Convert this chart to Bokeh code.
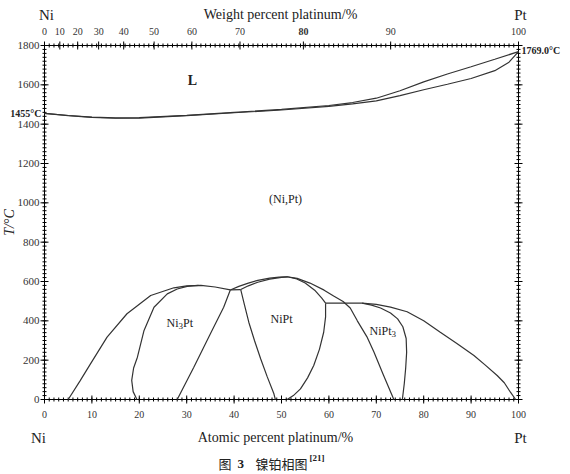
from bokeh.plotting import figure
from bokeh.models import Range1d
from bokeh.core.properties import value
from bokeh.embed import file_html
from bokeh.resources import INLINE
import numpy as np

# ---------------- data ----------------
liq_x = [0, 5, 10, 15, 20, 30, 40, 50, 60, 65, 70, 75, 80, 85, 90, 95, 100]
liq_T = [1455, 1444, 1436, 1432, 1433, 1445, 1460, 1475, 1495, 1510, 1532, 1570, 1615, 1655, 1692, 1730, 1769]
sol_x = [0, 5, 10, 15, 20, 30, 40, 50, 60, 65, 70, 75, 80, 85, 90, 95, 98, 100]
sol_T = [1455, 1443, 1435, 1430, 1431, 1443, 1458, 1472, 1490, 1503, 1518, 1545, 1575, 1603, 1632, 1672, 1715, 1769]

ni3pt_outer_x = [5, 7.5, 9.7, 13.2, 17.4, 22.4, 27.3, 30, 33, 36, 39.2]
ni3pt_outer_T = [0, 95, 181, 317, 436, 529, 568, 578, 580, 572, 557]
ni3pt_inner_x = [19.5, 18.7, 18.4, 18.8, 19.6, 21, 23.1, 25.9, 28, 30.1, 32.5]
ni3pt_inner_T = [0, 40, 97, 160, 215, 351, 469, 537, 562, 575, 580]
ni3pt_right_x = [28, 31.5, 35, 37.8, 39.2]
ni3pt_right_T = [0, 164, 334, 469, 557]
tie1_x = [39.2, 41.4]
tie1_T = [557, 559]

nipt_outer_x = [39.2, 41, 43, 45, 47.5, 49.5, 51.2, 53.3, 56, 59, 61, 63, 64.5, 66, 68, 69.5, 71.5, 73.7]
nipt_outer_T = [557, 575, 592, 606, 617, 622, 624, 616, 592, 556, 526, 498, 465, 400, 320, 241, 125, 0]
nipt_inner_x = [41.4, 43, 45, 47.5, 50, 51.2, 53, 55, 57, 58.5, 59.3]
nipt_inner_T = [559, 578, 596, 612, 621, 624, 615, 592, 556, 515, 490]
nipt_left_x = [41.4, 42.2, 43.1, 44.3, 45.6, 47, 48.4, 48.7]
nipt_left_T = [559, 480, 393, 300, 207, 115, 29, 0]
nipt_right_x = [59.3, 59.3, 58.9, 58, 56.8, 55.5, 54, 52.5, 51.2]
nipt_right_T = [490, 420, 342, 255, 173, 110, 54, 20, 0]
tie2_x = [59.3, 67]
tie2_T = [490, 490]

nipt3_outer_x = [67, 70, 73, 76.5, 80, 83.5, 87, 90.6, 93, 95.5, 97, 98.3, 99.4]
nipt3_outer_T = [490, 484, 470, 446, 400, 342, 285, 224, 175, 122, 85, 37, 0]
nipt3_inner_x = [67, 69, 70.9, 73, 74.5, 75.6, 76.3, 76.4, 76.2, 75.9, 75.5]
nipt3_inner_T = [490, 480, 465, 440, 410, 370, 310, 240, 160, 80, 0]

# axes
bottom_ticks = [0, 10, 20, 30, 40, 50, 60, 70, 80, 90, 100]
bottom_minor = list(range(0, 101))
left_ticks = [0, 200, 400, 600, 800, 1000, 1200, 1400, 1600, 1800]
left_minor = list(range(0, 1801, 20))
weight_ticks = [0, 10, 20, 30, 40, 50, 60, 70, 80, 90, 100]
weight_label_style = ["normal"] * 8 + ["bold"] + ["normal"] * 2

M_NI, M_PT = 58.69, 195.08


def wt_to_at(w):
    if w <= 0:
        return 0.0
    if w >= 100:
        return 100.0
    a = w / M_PT
    b = (100 - w) / M_NI
    return 100 * a / (a + b)


top_pos = [wt_to_at(w) for w in weight_ticks]

# ---------------- layout geometry (pixels) ----------------
W, H = 570, 474
FL, FR, FT, FB = 44, 518, 45, 399          # frame edges in canvas px
X0, X1 = bottom_ticks[0], bottom_ticks[-1]
Y0, Y1 = left_ticks[0], left_ticks[-1]
sx = (FR - FL) / (X1 - X0)
sy = (FB - FT) / (Y1 - Y0)


def px_x(px):
    return X0 + (px - FL) / sx


def px_y(py):
    return Y0 + (FB - py) / sy


SERIF = "Liberation Serif"
CJK = "Noto Sans CJK SC"
LC = "#333333"

p = figure(width=W, height=H,
           x_range=Range1d(px_x(0), px_x(W)), y_range=Range1d(px_y(H), px_y(0)),
           output_backend="svg", toolbar_location=None,
           x_axis_location=None, y_axis_location=None,
           min_border_left=0, min_border_right=0, min_border_top=0, min_border_bottom=0)
p.grid.visible = False
p.outline_line_color = None
p.background_fill_color = "white"
p.border_fill_color = "white"

# frame box
p.line([X0, X1, X1, X0, X0], [Y0, Y0, Y1, Y1, Y0], line_color="black", line_width=1)

# ticks (dash markers centred on the axis lines)
half = np.pi / 2
p.scatter(bottom_ticks, [Y0] * len(bottom_ticks), marker="dash", size=8, angle=half, line_color="black")
p.scatter(bottom_minor, [Y0] * len(bottom_minor), marker="dash", size=4, angle=half, line_color="black")
p.scatter(top_pos, [Y1] * len(top_pos), marker="dash", size=8, angle=half, line_color="black")
p.scatter(bottom_minor, [Y1] * len(bottom_minor), marker="dash", size=4, angle=half, line_color="black")
p.scatter([X0] * len(left_ticks), left_ticks, marker="dash", size=8, line_color="black")
p.scatter([X0] * len(left_minor), left_minor, marker="dash", size=4, line_color="black")
p.scatter([X1] * len(left_ticks), left_ticks, marker="dash", size=8, line_color="black")
p.scatter([X1] * len(left_minor), left_minor, marker="dash", size=4, line_color="black")

# tick labels
p.text(bottom_ticks, [px_y(FB + 15)] * len(bottom_ticks), text=[str(t) for t in bottom_ticks],
       text_font=value(SERIF), text_font_size="10px", text_align="center",
       text_baseline="middle", text_color="#333333")
p.text([px_x(FL - 5)] * len(left_ticks), left_ticks, text=[str(t) for t in left_ticks],
       text_font=value(SERIF), text_font_size="11px", text_align="right",
       text_baseline="middle", text_color="#333333")
p.text(top_pos, [px_y(FT - 14)] * len(top_pos), text=[str(w) for w in weight_ticks],
       text_font=value(SERIF), text_font_size="10px", text_align="center",
       text_baseline="middle", text_color="#333333", text_font_style=weight_label_style)

# phase boundaries
lines = [
    (liq_x, liq_T), (sol_x, sol_T),
    (ni3pt_outer_x, ni3pt_outer_T), (ni3pt_inner_x, ni3pt_inner_T),
    (ni3pt_right_x, ni3pt_right_T), (tie1_x, tie1_T),
    (nipt_outer_x, nipt_outer_T), (nipt_inner_x, nipt_inner_T),
    (nipt_left_x, nipt_left_T), (nipt_right_x, nipt_right_T), (tie2_x, tie2_T),
    (nipt3_outer_x, nipt3_outer_T), (nipt3_inner_x, nipt3_inner_T),
]
for xs, ts in lines:
    p.line(xs, ts, line_color=LC, line_width=1.2)


def txt(x, y, s, size="11px", align="center", base="middle", style="normal",
        font=SERIF, angle=0.0, color="#222222"):
    p.text([x], [y], text=[s], text_font=value(font), text_font_size=size,
           text_align=align, text_baseline=base, text_font_style=style,
           text_color=color, angle=angle)


# region labels
txt(px_x(192), px_y(80), "L", size="14px", style="bold")
txt(px_x(285), px_y(198), "(Ni,Pt)", size="12px")
txt(px_x(281), px_y(318), "NiPt", size="12px")
# Ni3Pt with subscript
txt(px_x(166), px_y(322), "Ni", size="12px", align="left")
txt(px_x(178), px_y(325), "3", size="9px", align="left")
txt(px_x(182.5), px_y(322), "Pt", size="12px", align="left")
# NiPt3 with subscript
txt(px_x(369), px_y(330), "NiPt", size="12px", align="left")
txt(px_x(391), px_y(333), "3", size="9px", align="left")

# special temperatures
txt(px_x(41), liq_T[0], "1455°C", size="10px", align="right", style="bold")
txt(px_x(521), px_y(50), "1769.0°C", size="10px", align="left", style="bold")

# axis titles
txt(px_x(46), px_y(14), "Ni", size="15px")
txt(px_x(280), px_y(14), "Weight percent platinum/%", size="14px")
txt(px_x(520), px_y(14), "Pt", size="15px")
txt(px_x(38), px_y(437), "Ni", size="15px")
txt(px_x(275), px_y(437), "Atomic percent platinum/%", size="14px")
txt(px_x(520), px_y(437), "Pt", size="15px")
txt(px_x(9), px_y(222), "T/°C", size="14px", style="italic", angle=np.pi / 2)

# caption
txt(px_x(218), px_y(463), "图", size="13px", align="left", font=CJK)
txt(px_x(237), px_y(463), "3", size="13px", align="left", style="bold")
txt(px_x(255), px_y(463), "镍铂相图", size="13px", align="left", font=CJK)
txt(px_x(309), px_y(457), "[21]", size="9px", align="left", style="bold")

open("out.html", "w").write(file_html(p, INLINE))
